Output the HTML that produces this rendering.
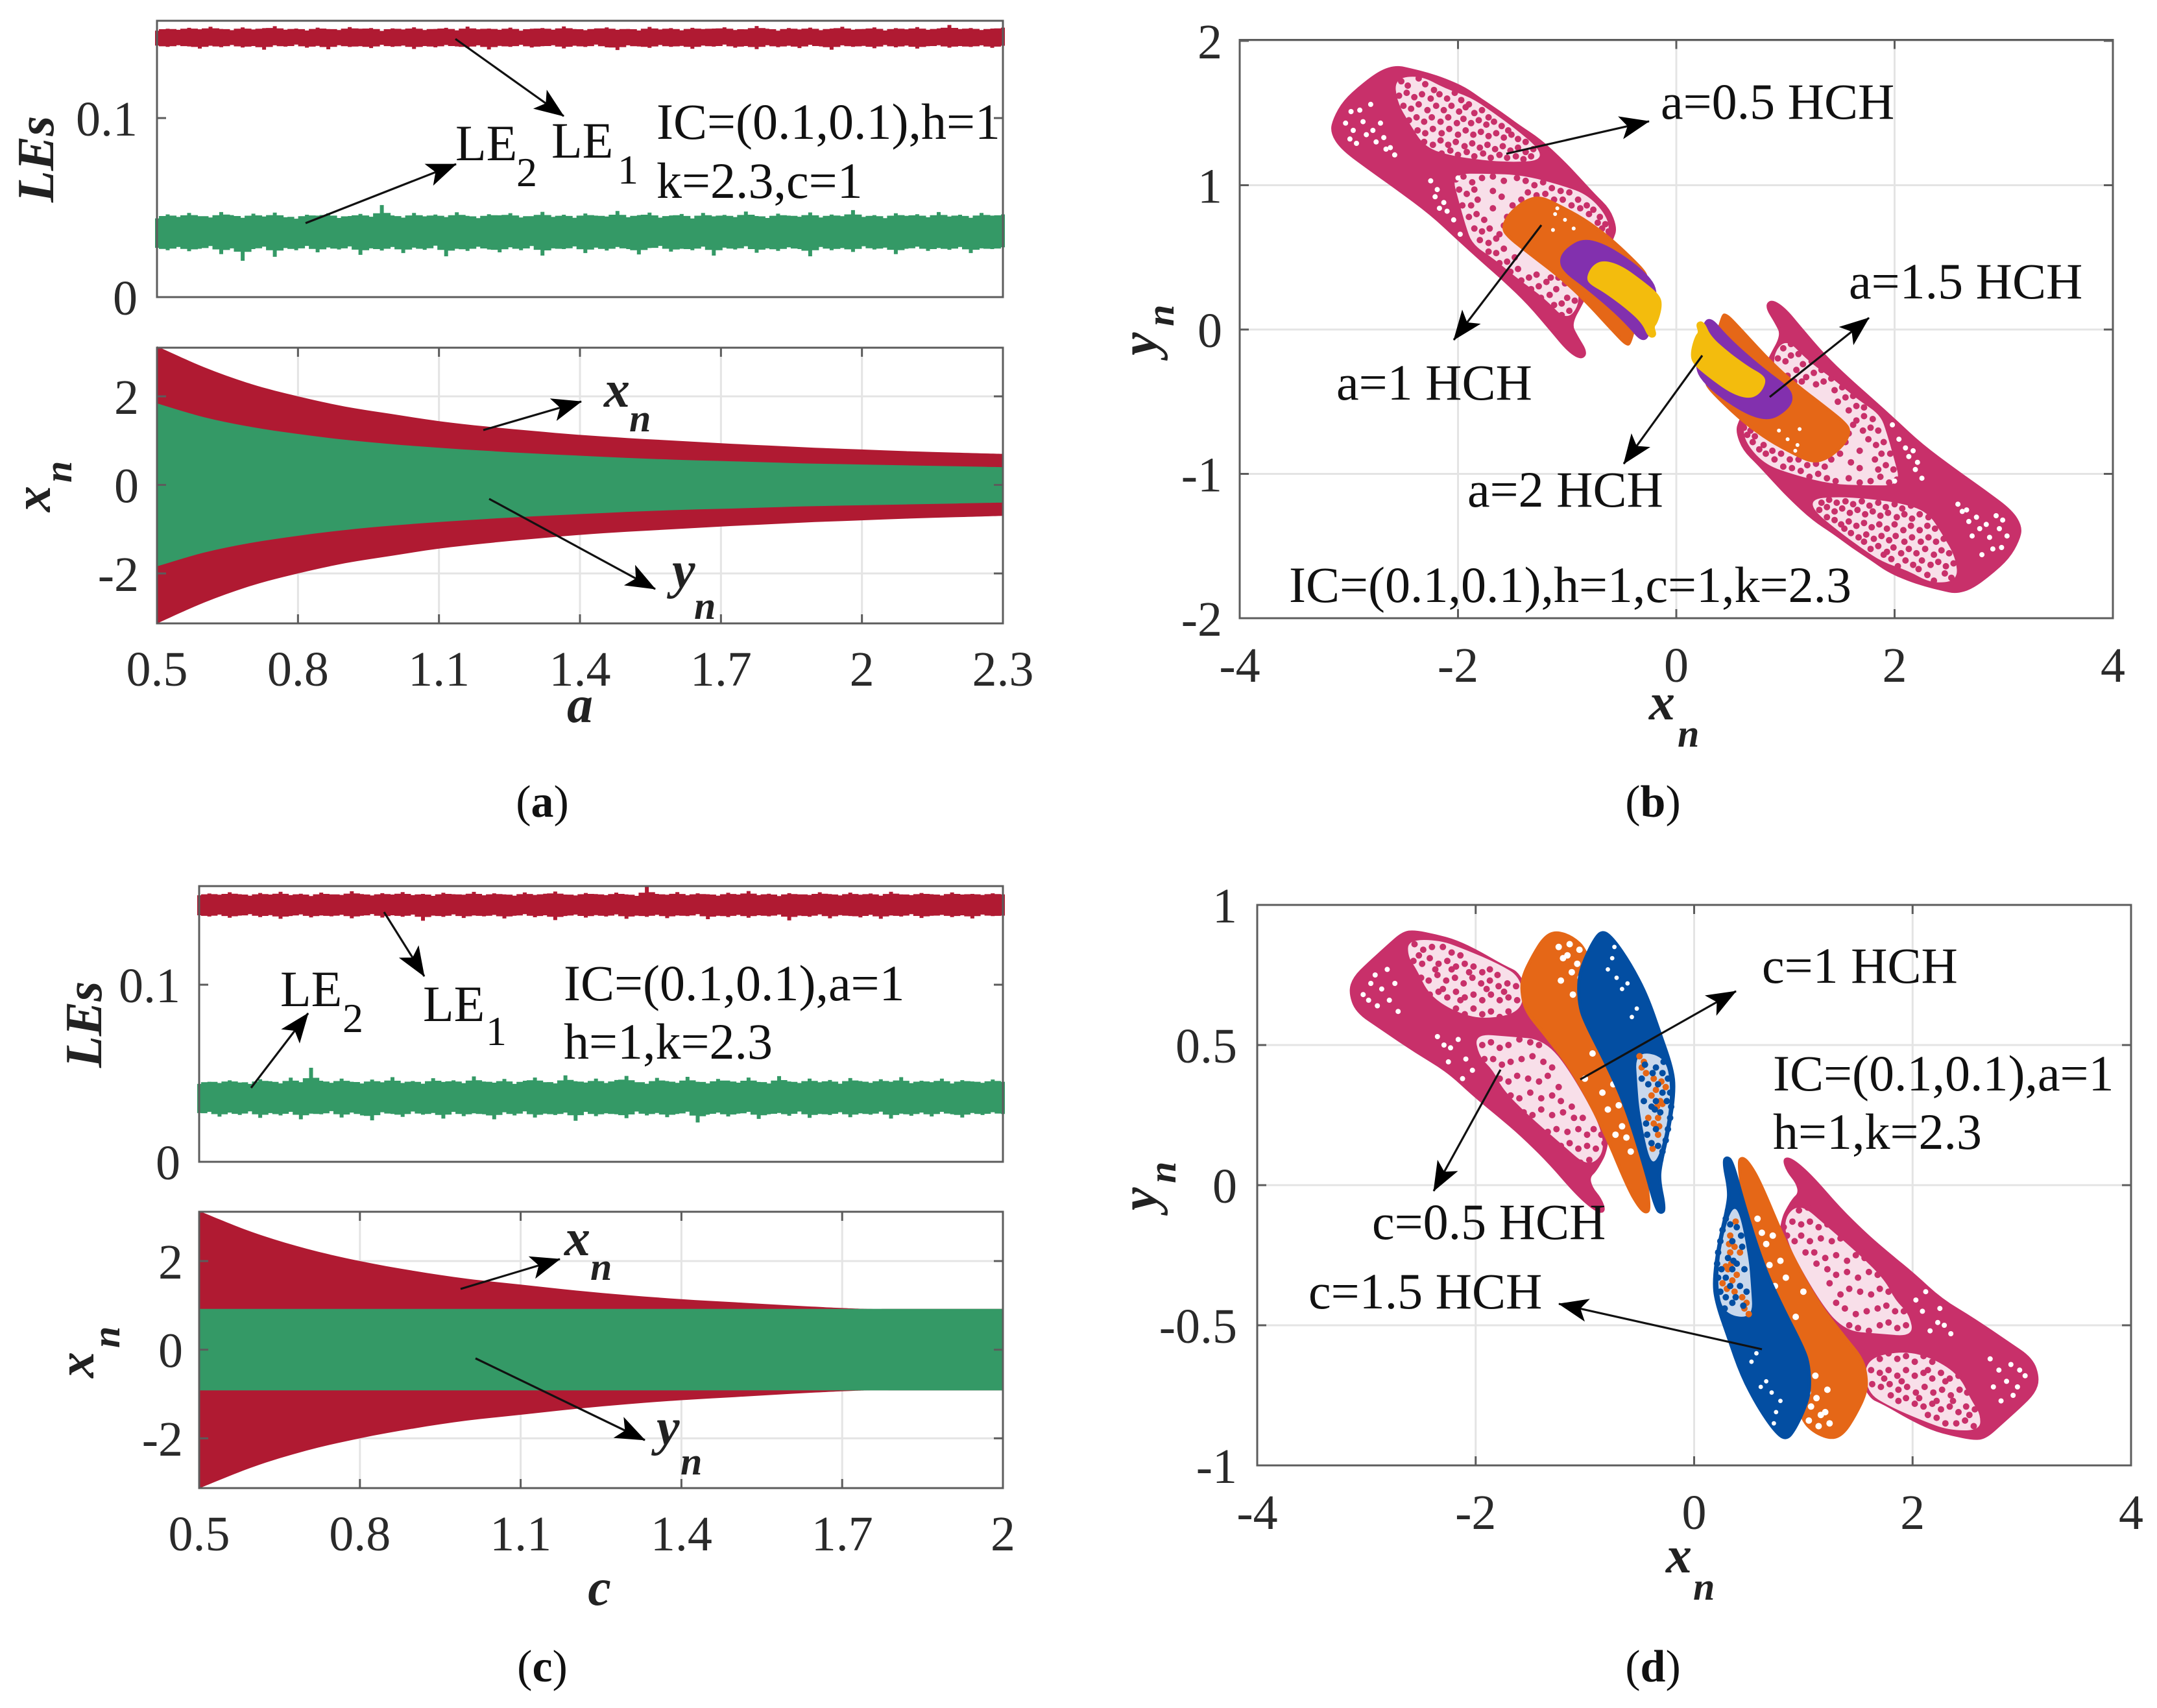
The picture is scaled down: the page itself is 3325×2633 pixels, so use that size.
<!DOCTYPE html>
<html lang="en">
<head>
<meta charset="utf-8">
<title>Lyapunov exponents, bifurcation diagrams and phase portraits</title>
<style>
html,body{margin:0;padding:0;background:#fff}
svg{display:block;font-family:"Liberation Serif",serif;fill:#111}
.tick{font-size:76px;fill:#2a2a2a}
.ann{font-size:78px;fill:#111}
.sub{font-size:64px}
.lab{font-size:80px;font-weight:bold;font-style:italic;fill:#222}
.labsub{font-size:60px;font-weight:bold;font-style:italic;fill:#222}
.cap{font-size:70px;fill:#111}
.arrow{stroke:#111;stroke-width:3.2;marker-end:url(#arrow-head)}
</style>
</head>
<body>
<svg xmlns="http://www.w3.org/2000/svg" width="3325" height="2633" viewBox="0 0 3325 2633">
<defs>
<marker id="arrow-head" markerUnits="userSpaceOnUse" markerWidth="48" markerHeight="38" viewBox="0 0 48 38" refX="47" refY="19" orient="auto">
<path d="M48 19 L2 1 L13 19 L2 37 Z" fill="#000"/>
</marker>
</defs>
<rect width="3325" height="2633" fill="#fff"/>
<g id="plots"></g>

<!-- panel a -->
<g>
<text class="lab" transform="translate(82,312) rotate(-90)">LEs</text>
<text class="lab" transform="translate(77,789) rotate(-90)">x</text>
<text class="labsub" transform="translate(110,744) rotate(-90)">n</text>
<text class="lab" x="894" y="1113" text-anchor="middle">a</text>
<text class="ann" x="702" y="247">LE</text><text class="ann sub" x="796" y="287">2</text>
<text class="ann" x="850" y="243">LE</text><text class="ann sub" x="952" y="283">1</text>
<text class="ann" x="1012" y="214">IC=(0.1,0.1),h=1</text>
<text class="ann" x="1012" y="305">k=2.3,c=1</text>
<text class="lab" x="931" y="627">x</text><text class="labsub" x="970" y="665">n</text>
<text class="lab" x="1036" y="906">y</text><text class="labsub" x="1070" y="954">n</text>
<line class="arrow" x1="702" y1="60" x2="869" y2="179"/>
<line class="arrow" x1="471" y1="344" x2="703" y2="253"/>
<line class="arrow" x1="745" y1="663" x2="896" y2="619"/>
<line class="arrow" x1="754" y1="769" x2="1010" y2="908"/>
<text class="cap" x="836" y="1259" text-anchor="middle">(<tspan font-weight="bold">a</tspan>)</text>
</g>

<!-- panel b -->
<g>
<text class="lab" x="2542" y="1109">x</text><text class="labsub" x="2586" y="1151">n</text>
<text class="lab" transform="translate(1783,548) rotate(-90)">y</text>
<text class="labsub" transform="translate(1809,503) rotate(-90)">n</text>
<text class="ann" x="2560" y="183">a=0.5 HCH</text>
<text class="ann" x="2060" y="616">a=1 HCH</text>
<text class="ann" x="2850" y="460">a=1.5 HCH</text>
<text class="ann" x="2262" y="781">a=2 HCH</text>
<text class="ann" x="1987" y="928">IC=(0.1,0.1),h=1,c=1,k=2.3</text>
<line class="arrow" x1="2322" y1="237" x2="2542" y2="187"/>
<line class="arrow" x1="2376" y1="347" x2="2241" y2="524"/>
<line class="arrow" x1="2728" y1="612" x2="2881" y2="490"/>
<line class="arrow" x1="2624" y1="548" x2="2503" y2="715"/>
<text class="cap" x="2548" y="1259" text-anchor="middle">(<tspan font-weight="bold">b</tspan>)</text>
</g>

<!-- panel c -->
<g>
<text class="lab" transform="translate(156,1646) rotate(-90)">LEs</text>
<text class="lab" transform="translate(144,2124) rotate(-90)">x</text>
<text class="labsub" transform="translate(184,2078) rotate(-90)">n</text>
<text class="lab" x="924" y="2474" text-anchor="middle">c</text>
<text class="ann" x="432" y="1551">LE</text><text class="ann sub" x="528" y="1591">2</text>
<text class="ann" x="652" y="1574">LE</text><text class="ann sub" x="749" y="1611">1</text>
<text class="ann" x="869" y="1542">IC=(0.1,0.1),a=1</text>
<text class="ann" x="869" y="1632">h=1,k=2.3</text>
<text class="lab" x="870" y="1935">x</text><text class="labsub" x="910" y="1973">n</text>
<text class="lab" x="1012" y="2227">y</text><text class="labsub" x="1049" y="2273">n</text>
<line class="arrow" x1="592" y1="1406" x2="654" y2="1505"/>
<line class="arrow" x1="387" y1="1677" x2="475" y2="1562"/>
<line class="arrow" x1="710" y1="1987" x2="863" y2="1941"/>
<line class="arrow" x1="733" y1="2094" x2="994" y2="2220"/>
<text class="cap" x="836" y="2592" text-anchor="middle">(<tspan font-weight="bold">c</tspan>)</text>
</g>

<!-- panel d -->
<g>
<text class="lab" x="2568" y="2424">x</text><text class="labsub" x="2610" y="2466">n</text>
<text class="lab" transform="translate(1783,1866) rotate(-90)">y</text>
<text class="labsub" transform="translate(1812,1824) rotate(-90)">n</text>
<text class="ann" x="2716" y="1515">c=1 HCH</text>
<text class="ann" x="2733" y="1681">IC=(0.1,0.1),a=1</text>
<text class="ann" x="2733" y="1771">h=1,k=2.3</text>
<text class="ann" x="2115" y="1910">c=0.5 HCH</text>
<text class="ann" x="2017" y="2017">c=1.5 HCH</text>
<line class="arrow" x1="2436" y1="1664" x2="2676" y2="1528"/>
<line class="arrow" x1="2313" y1="1649" x2="2210" y2="1836"/>
<line class="arrow" x1="2716" y1="2080" x2="2403" y2="2010"/>
<text class="cap" x="2548" y="2592" text-anchor="middle">(<tspan font-weight="bold">d</tspan>)</text>
</g>
</svg>

<script>
/* ---------- tick values ---------- */
const aXTicks=[0.5,0.8,1.1,1.4,1.7,2,2.3];
const cXTicks=[0.5,0.8,1.1,1.4,1.7,2];
const bandYTicks=[-2,0,2];
const leYTicks=[0,0.1];
const bXTicks=[-4,-2,0,2,4];
const bYTicks=[-2,-1,0,1,2];
const dXTicks=[-4,-2,0,2,4];
const dYTicks=[-1,-0.5,0,0.5,1];

/* ---------- panel a: envelopes of the bifurcation bands ---------- */
const aParam=[0.5,0.6,0.7,0.8,0.9,1.0,1.1,1.2,1.3,1.4,1.5,1.6,1.7,1.8,1.9,2.0,2.1,2.2,2.3];
const aOuter=[3.13,2.66,2.28,2.0,1.77,1.6,1.44,1.32,1.22,1.13,1.06,1.0,0.94,0.89,0.84,0.8,0.76,0.73,0.70];
const aInner=[1.84,1.53,1.31,1.15,1.02,0.92,0.84,0.77,0.71,0.66,0.61,0.57,0.54,0.51,0.48,0.46,0.44,0.42,0.40];

/* ---------- panel c: envelopes ---------- */
const cParam=[0.5,0.6,0.7,0.8,0.9,1.0,1.1,1.2,1.3,1.4,1.5,1.6,1.7,1.75,1.8,1.9,2.0];
const cOuter=[3.13,2.65,2.28,2.0,1.78,1.6,1.47,1.34,1.23,1.14,1.07,1.0,0.94,0.92,0.92,0.92,0.92];
const cInner=[0.92,0.92,0.92,0.92,0.92,0.92,0.92,0.92,0.92,0.92,0.92,0.92,0.92,0.92,0.92,0.92,0.92];

/* ---------- panel a: Lyapunov exponent band edges ---------- */
const aLe1Top=[.1488,.1499,.1493,.1504,.1496,.1510,.1498,.1491,.1506,.1495,.1502,.1513,.1494,.1500,.1489,.1505,.1497,.1492,.1508,.1499,.1503,.1487,.1501,.1495,.1507,.1492,.1498,.1504,.1490,.1511,.1496,.1500,.1493,.1505,.1488,.1499,.1503,.1494,.1512,.1497,.1491,.1501,.1506,.1493,.1498,.1489,.1509,.1495,.1502,.1490,.1504,.1497,.1500,.1507,.1492,.1496,.1514,.1499,.1488,.1503,.1495,.1505,.1491,.1500,.1510,.1494,.1498,.1506,.1489,.1502,.1496,.1508,.1493,.1501,.1520,.1497,.1503,.1492,.1500,.1505];
const aLe1Bot=[.1405,.1398,.1407,.1400,.1388,.1404,.1396,.1408,.1394,.1402,.1382,.1406,.1399,.1410,.1393,.1403,.1384,.1407,.1397,.1401,.1391,.1409,.1398,.1405,.1386,.1402,.1395,.1408,.1400,.1392,.1406,.1383,.1403,.1398,.1409,.1394,.1401,.1407,.1389,.1404,.1397,.1410,.1395,.1380,.1406,.1400,.1392,.1408,.1398,.1403,.1387,.1405,.1399,.1410,.1393,.1402,.1385,.1407,.1396,.1404,.1391,.1409,.1400,.1382,.1406,.1398,.1403,.1390,.1408,.1395,.1405,.1388,.1401,.1407,.1393,.1402,.1397,.1406,.1392,.1404];
const aLe2Top=[.0440,.0462,.0448,.0470,.0452,.0445,.0475,.0458,.0443,.0466,.0450,.0472,.0446,.0438,.0460,.0455,.0468,.0442,.0453,.0465,.0449,.0514,.0456,.0444,.0470,.0451,.0461,.0447,.0474,.0454,.0441,.0463,.0457,.0469,.0445,.0452,.0476,.0448,.0460,.0443,.0467,.0455,.0450,.0481,.0446,.0458,.0472,.0444,.0456,.0464,.0439,.0470,.0451,.0459,.0447,.0478,.0453,.0442,.0466,.0455,.0449,.0473,.0445,.0461,.0452,.0486,.0448,.0458,.0441,.0468,.0454,.0463,.0446,.0475,.0450,.0460,.0443,.0470,.0455,.0462];
const aLe2Bot=[.0275,.0262,.0280,.0256,.0270,.0285,.0240,.0272,.0203,.0268,.0282,.0225,.0274,.0262,.0286,.0250,.0277,.0266,.0283,.0236,.0272,.0260,.0280,.0246,.0276,.0264,.0287,.0228,.0270,.0258,.0281,.0266,.0250,.0278,.0262,.0285,.0232,.0272,.0268,.0283,.0246,.0276,.0260,.0280,.0268,.0238,.0274,.0286,.0254,.0270,.0262,.0282,.0232,.0276,.0266,.0284,.0248,.0272,.0258,.0278,.0268,.0228,.0280,.0262,.0274,.0252,.0284,.0266,.0276,.0240,.0270,.0282,.0258,.0274,.0264,.0280,.0246,.0272,.0268,.0278];

/* ---------- panel c: Lyapunov exponent band edges ---------- */
const cLe1Top=[.1505,.1515,.1508,.1522,.1511,.1503,.1518,.1509,.1525,.1506,.1514,.1501,.1520,.1510,.1507,.1528,.1512,.1504,.1517,.1509,.1523,.1506,.1513,.1502,.1519,.1511,.1508,.1524,.1505,.1516,.1510,.1503,.1521,.1507,.1514,.1526,.1509,.1504,.1518,.1512,.1506,.1520,.1510,.1502,.1555,.1513,.1508,.1523,.1505,.1516,.1511,.1503,.1519,.1509,.1529,.1506,.1514,.1501,.1517,.1510,.1507,.1522,.1512,.1504,.1520,.1508,.1515,.1503,.1525,.1510,.1506,.1518,.1511,.1504,.1521,.1509,.1513,.1507,.1516,.1510];
const cLe1Bot=[.1392,.1385,.1396,.1378,.1390,.1398,.1382,.1393,.1372,.1388,.1397,.1380,.1391,.1386,.1395,.1375,.1389,.1399,.1379,.1392,.1384,.1396,.1361,.1390,.1383,.1397,.1377,.1391,.1386,.1394,.1374,.1389,.1398,.1381,.1392,.1365,.1388,.1396,.1379,.1393,.1385,.1397,.1372,.1390,.1383,.1395,.1376,.1391,.1387,.1398,.1370,.1389,.1382,.1394,.1378,.1392,.1386,.1396,.1363,.1390,.1384,.1397,.1375,.1393,.1388,.1380,.1395,.1372,.1391,.1385,.1398,.1377,.1389,.1394,.1382,.1392,.1374,.1396,.1387,.1390];
const cLe2Top=[.0440,.0452,.0445,.0460,.0448,.0440,.0466,.0455,.0443,.0475,.0450,.0531,.0458,.0446,.0470,.0452,.0442,.0464,.0449,.0478,.0445,.0456,.0441,.0472,.0451,.0460,.0444,.0482,.0453,.0447,.0468,.0440,.0458,.0476,.0450,.0443,.0488,.0455,.0448,.0470,.0445,.0462,.0485,.0450,.0441,.0474,.0456,.0446,.0480,.0452,.0443,.0468,.0459,.0447,.0476,.0451,.0442,.0484,.0454,.0445,.0470,.0449,.0462,.0441,.0473,.0456,.0446,.0466,.0452,.0478,.0444,.0458,.0450,.0470,.0442,.0461,.0454,.0446,.0465,.0452];
const cLe2Bot=[.0275,.0282,.0255,.0278,.0265,.0285,.0248,.0275,.0262,.0282,.0240,.0272,.0268,.0286,.0250,.0278,.0262,.0234,.0280,.0270,.0254,.0284,.0266,.0276,.0244,.0282,.0258,.0274,.0268,.0240,.0280,.0262,.0285,.0250,.0272,.0264,.0278,.0232,.0282,.0258,.0274,.0268,.0246,.0284,.0262,.0276,.0252,.0270,.0283,.0222,.0266,.0278,.0256,.0272,.0282,.0242,.0268,.0276,.0260,.0284,.0248,.0270,.0264,.0280,.0252,.0274,.0266,.0283,.0244,.0272,.0260,.0278,.0256,.0282,.0268,.0250,.0276,.0264,.0280,.0270];

/* ---------- panel b: attractor outlines and points (one lobe; the other is its point reflection) ---------- */
const a05Outline=[-2.56,1.82,-2.44,1.80,-2.28,1.77,-2.12,1.73,-1.94,1.67,-1.79,1.59,-1.61,1.50,-1.45,1.41,-1.25,1.31,-1.05,1.17,-0.90,1.05,-0.755,0.93,-0.62,0.83,-0.56,0.71,-0.58,0.64,-0.856,0.20,-0.975,0.04,-0.916,-0.05,-0.826,-0.16,-0.874,-0.20,-0.993,-0.14,-1.136,-0.01,-1.35,0.18,-1.57,0.34,-1.766,0.47,-2.0,0.63,-2.24,0.80,-2.56,0.98,-2.84,1.13,-3.07,1.26,-3.157,1.37,-3.13,1.46,-3.04,1.58,-2.88,1.69,-2.70,1.79];
const a05GapUpper=[-2.58,1.74,-2.34,1.76,-2.12,1.67,-1.885,1.61,-1.69,1.51,-1.49,1.40,-1.25,1.25,-1.25,1.17,-1.49,1.16,-1.73,1.17,-2.045,1.20,-2.30,1.26,-2.44,1.42,-2.56,1.58];
const a05GapLower=[-2.06,1.08,-1.73,1.08,-1.41,1.07,-1.05,1.00,-0.80,0.93,-0.62,0.77,-0.62,0.64,-1.05,0.53,-0.856,0.23,-0.993,0.05,-1.21,0.22,-1.45,0.35,-1.67,0.49,-1.87,0.59,-1.93,0.72,-1.99,0.88];
const a05Points=[-2.52,1.72,-2.46,1.69,-2.36,1.74,-2.30,1.70,-2.22,1.66,-2.54,1.62,-2.47,1.64,-2.40,1.61,-2.33,1.63,-2.25,1.60,-2.17,1.63,-2.10,1.60,-2.03,1.64,-1.97,1.59,-1.90,1.56,-2.50,1.55,-2.43,1.53,-2.36,1.56,-2.28,1.52,-2.20,1.55,-2.13,1.52,-2.06,1.55,-1.99,1.51,-1.93,1.54,-1.85,1.50,-1.78,1.52,-1.72,1.47,-2.45,1.45,-2.38,1.47,-2.31,1.44,-2.24,1.47,-2.16,1.44,-2.09,1.47,-2.01,1.43,-1.95,1.46,-1.88,1.43,-1.81,1.45,-1.74,1.42,-1.67,1.44,-1.60,1.41,-1.54,1.38,-2.37,1.38,-2.30,1.36,-2.23,1.39,-2.15,1.36,-2.08,1.39,-2.00,1.35,-1.93,1.38,-1.86,1.35,-1.79,1.37,-1.72,1.34,-1.65,1.36,-1.58,1.33,-1.51,1.35,-1.45,1.32,-1.38,1.30,-2.31,1.30,-2.23,1.28,-2.16,1.31,-2.09,1.28,-2.02,1.30,-1.94,1.27,-1.87,1.29,-1.80,1.26,-1.73,1.28,-1.66,1.25,-1.59,1.27,-1.52,1.24,-1.45,1.26,-1.38,1.23,-1.31,1.25,-2.15,1.22,-2.07,1.24,-2.00,1.21,-1.92,1.23,-1.85,1.20,-1.77,1.22,-1.70,1.19,-1.62,1.21,-1.55,1.19,-1.47,1.20,-1.40,1.18,-1.33,1.20,-2.02,1.04,-1.95,1.06,-1.87,1.02,-1.78,1.05,-1.68,1.06,-1.58,1.03,-1.46,1.05,-1.38,1.03,-1.30,1.00,-1.22,1.02,-1.14,0.98,-1.06,0.96,-0.98,0.95,-0.90,0.90,-0.82,0.86,-0.76,0.83,-0.70,0.78,-0.65,0.73,-0.62,0.68,-1.99,0.97,-1.92,0.94,-1.85,0.97,-1.36,0.95,-1.28,0.93,-1.20,0.94,-1.12,0.90,-1.04,0.90,-0.96,0.86,-0.88,0.84,-0.80,0.80,-0.72,0.74,-0.68,0.70,-1.96,0.86,-1.88,0.86,-1.82,0.90,-1.90,0.78,-1.83,0.80,-1.76,0.76,-1.85,0.70,-1.78,0.68,-1.71,0.70,-1.80,0.62,-1.72,0.60,-1.65,0.63,-1.58,0.72,-1.72,0.54,-1.65,0.53,-1.58,0.56,-1.62,0.46,-1.55,0.47,-1.48,0.50,-1.52,0.40,-1.45,0.42,-1.42,0.34,-1.35,0.36,-1.28,0.38,-1.33,0.28,-1.26,0.30,-1.19,0.33,-1.24,0.22,-1.16,0.24,-1.10,0.28,-1.12,0.17,-1.05,0.18,-1.00,0.22,-1.05,0.10,-0.98,0.13,-0.93,0.20,-0.90,0.28,-1.02,0.32,-1.08,0.36,-1.15,0.36,-1.68,0.96,-1.60,0.92,-1.50,0.86,-1.42,0.90,-1.68,0.84,-1.55,0.78,-1.62,0.66];
const a05Flecks=[-2.96,1.38,-2.84,1.35,-2.66,1.25,-2.58,1.21,-2.98,1.51,-2.80,1.56,-2.71,1.43,-2.99,1.32,-2.21,0.92,-2.17,0.84,-2.13,0.88,-2.25,1.03,-2.04,0.76,-2.00,1.05,-2.87,1.44,-2.93,1.29,-2.75,1.30,-2.62,1.26,-2.19,0.97,-2.90,1.52,-2.78,1.38,-2.68,1.33,-3.03,1.43,-2.10,0.82,-1.98,0.66];
const a1Outline=[-1.25,0.92,-1.08,0.86,-0.856,0.77,-0.62,0.64,-0.42,0.50,-0.28,0.39,-0.28,0.35,-0.42,-0.10,-0.46,-0.10,-0.54,-0.04,-0.856,0.22,-1.09,0.38,-1.35,0.53,-1.55,0.65,-1.59,0.71,-1.53,0.80,-1.39,0.89];
const a1Flecks=[-1.11,0.80,-1.13,0.69,-0.94,0.70,-1.09,0.84,-1.02,0.76];
const a15Outline=[-0.856,0.62,-0.68,0.59,-0.46,0.49,-0.28,0.38,-0.18,0.27,-0.227,0.10,-0.26,-0.05,-0.32,-0.07,-0.42,0.02,-0.58,0.14,-0.815,0.29,-1.03,0.41,-1.06,0.49,-0.993,0.56];
const a2Outline=[-0.66,0.47,-0.50,0.43,-0.30,0.32,-0.16,0.23,-0.143,0.16,-0.184,0.05,-0.22,0.02,-0.19,-0.04,-0.244,-0.05,-0.30,0.05,-0.46,0.16,-0.66,0.27,-0.78,0.32,-0.81,0.36,-0.755,0.44];

/* ---------- panel d: attractor outlines and points ---------- */
const c05Outline=[-2.56,0.905,-2.37,0.89,-2.18,0.87,-1.97,0.83,-1.75,0.78,-1.58,0.75,-1.41,0.54,-0.78,0.40,-0.785,0.14,-0.90,0.055,-0.97,0.03,-0.945,-0.01,-0.86,-0.05,-0.82,-0.095,-0.90,-0.09,-1.075,-0.03,-1.33,0.085,-1.58,0.18,-1.79,0.25,-2.01,0.32,-2.26,0.41,-2.56,0.48,-2.86,0.56,-3.09,0.62,-3.15,0.69,-3.11,0.74,-2.98,0.79,-2.81,0.85,-2.665,0.90];
const c05GapUpper=[-2.62,0.875,-2.33,0.875,-2.09,0.84,-1.79,0.79,-1.58,0.74,-1.56,0.62,-1.92,0.59,-2.20,0.62,-2.43,0.68,-2.54,0.77,-2.62,0.815];
const c05GapLower=[-2.01,0.54,-1.69,0.53,-1.37,0.52,-1.12,0.40,-0.78,0.155,-0.945,0.055,-1.24,0.155,-1.52,0.25,-1.75,0.34,-1.84,0.41,-1.97,0.46];
const c05Points=[-2.56,0.86,-2.48,0.84,-2.40,0.85,-2.30,0.85,-2.22,0.83,-2.14,0.82,-2.57,0.80,-2.49,0.79,-2.42,0.81,-2.34,0.79,-2.26,0.80,-2.18,0.78,-2.10,0.79,-2.02,0.78,-1.94,0.76,-1.87,0.77,-1.80,0.75,-2.50,0.74,-2.43,0.73,-2.35,0.75,-2.27,0.73,-2.19,0.74,-2.11,0.72,-2.03,0.74,-1.95,0.72,-1.87,0.73,-1.79,0.71,-1.71,0.72,-1.63,0.71,-2.42,0.68,-2.34,0.69,-2.26,0.67,-2.18,0.69,-2.10,0.67,-2.02,0.68,-1.94,0.66,-1.86,0.68,-1.78,0.66,-1.70,0.67,-1.62,0.66,-2.26,0.62,-2.18,0.63,-2.10,0.61,-2.02,0.63,-1.94,0.61,-1.86,0.62,-1.78,0.60,-1.70,0.62,-1.62,0.61,-2.52,0.82,-2.37,0.77,-2.22,0.77,-2.06,0.76,-1.90,0.70,-1.74,0.69,-2.30,0.70,-2.14,0.66,-1.94,0.50,-1.86,0.51,-1.78,0.49,-1.70,0.50,-1.60,0.52,-1.50,0.51,-1.42,0.50,-1.92,0.45,-1.84,0.45,-1.76,0.43,-1.68,0.44,-1.58,0.45,-1.48,0.46,-1.38,0.44,-1.30,0.42,-1.78,0.38,-1.70,0.37,-1.62,0.39,-1.52,0.38,-1.42,0.37,-1.34,0.39,-1.24,0.35,-1.68,0.32,-1.60,0.31,-1.50,0.33,-1.40,0.31,-1.30,0.32,-1.22,0.30,-1.12,0.28,-1.56,0.26,-1.48,0.25,-1.40,0.27,-1.30,0.25,-1.20,0.26,-1.10,0.24,-1.02,0.24,-1.42,0.20,-1.34,0.19,-1.26,0.20,-1.16,0.19,-1.06,0.20,-0.98,0.18,-0.92,0.20,-0.85,0.18,-1.30,0.15,-1.22,0.14,-1.14,0.15,-1.06,0.13,-0.98,0.14,-0.90,0.13,-0.82,0.15,-1.12,0.09,-1.04,0.08,-0.96,0.09,-0.90,0.07];
const c05Flecks=[-2.96,0.72,-2.86,0.70,-2.79,0.66,-2.71,0.62,-3.03,0.68,-2.92,0.75,-2.81,0.77,-2.23,0.49,-2.16,0.52,-2.09,0.45,-2.35,0.53,-2.29,0.50,-2.03,0.41,-2.74,0.72,-2.90,0.64,-2.98,0.66,-2.12,0.38,-2.25,0.44];
const c1Outline=[-1.265,0.905,-1.115,0.885,-0.99,0.84,-0.88,0.70,-0.82,0.44,-0.63,0.25,-0.457,0.07,-0.405,-0.08,-0.436,-0.10,-0.50,-0.08,-0.606,-0.01,-0.84,0.21,-1.115,0.41,-1.37,0.54,-1.54,0.62,-1.58,0.69,-1.57,0.745,-1.476,0.82,-1.37,0.885];
const c1Flecks=[-1.24,0.85,-1.16,0.82,-1.07,0.79,-1.11,0.68,-1.22,0.73,-0.84,0.33,-0.69,0.285,-0.62,0.17,-0.93,0.47,-1.20,0.81,-1.12,0.76,-0.79,0.27,-0.66,0.21,-1.00,0.38,-1.14,0.86,-1.05,0.84,-1.04,0.74,-0.74,0.36,-0.58,0.12,-0.72,0.18];
const c15Outline=[-0.84,0.91,-0.733,0.875,-0.585,0.79,-0.436,0.68,-0.31,0.54,-0.20,0.415,-0.18,0.34,-0.225,0.21,-0.31,0.07,-0.32,0.016,-0.267,-0.085,-0.30,-0.10,-0.35,-0.085,-0.457,0.07,-0.63,0.285,-0.80,0.43,-1.01,0.59,-1.05,0.645,-1.06,0.72,-1.03,0.78,-0.925,0.87];
const c15Gap=[-0.54,0.477,-0.267,0.46,-0.21,0.355,-0.245,0.21,-0.34,0.08,-0.415,0.09,-0.50,0.26,-0.52,0.355];
const c15Points=[-0.35,0.42,-0.29,0.40,-0.24,0.38,-0.22,0.33,-0.21,0.28,-0.22,0.24,-0.24,0.20,-0.26,0.16,-0.29,0.12,-0.31,0.09,-0.33,0.14,-0.35,0.20,-0.39,0.15,-0.31,0.26,-0.35,0.30,-0.29,0.33,-0.39,0.28,-0.44,0.22,-0.42,0.36,-0.33,0.36,-0.46,0.30,-0.48,0.38,-0.38,0.40,-0.28,0.44,-0.45,0.43,-0.36,0.27,-0.25,0.30,-0.43,0.18];
const c1InsidePoints=[-0.46,0.44,-0.44,0.40,-0.35,0.34,-0.37,0.38,-0.31,0.30,-0.33,0.24,-0.37,0.22,-0.29,0.29,-0.33,0.18,-0.42,0.24,-0.38,0.13,-0.50,0.46,-0.48,0.42,-0.30,0.37,-0.34,0.28,-0.39,0.32,-0.26,0.35,-0.32,0.21];
const c15Flecks=[-0.75,0.81,-0.71,0.74,-0.61,0.72,-0.525,0.63,-0.79,0.77,-0.66,0.70,-0.57,0.60,-0.73,0.85];

/* ---------- colours ---------- */
const RED='#b01a32',GREEN='#349966',MAGENTA='#c8306a',ORANGE='#e56717',PURPLE='#8230ae',YELLOW='#f3bc0d',BLUE='#034ea2';

/* ---------- helpers ---------- */
const NS='http://www.w3.org/2000/svg';
const plots=document.getElementById('plots');
function scale(d0,d1,r0,r1){return v=>r0+(v-d0)*(r1-r0)/(d1-d0);}
function mk(tag,attrs,parent){
  const el=document.createElementNS(NS,tag);
  for(const k in attrs)el.setAttribute(k,attrs[k]);
  (parent||plots).appendChild(el);
  return el;
}
function drawGrid(prefix,box,sx,sy,xTicks,yTicks){
  xTicks.forEach(t=>{
    const g=mk('line',{x1:sx(t),x2:sx(t),y1:box.top,y2:box.bottom,stroke:'#e4e4e4','stroke-width':3});
    
    
  });
  yTicks.forEach(t=>{
    const g=mk('line',{x1:box.left,x2:box.right,y1:sy(t),y2:sy(t),stroke:'#e4e4e4','stroke-width':3});
    
    
  });
}
function drawFrame(prefix,box,sx,sy,xTicks,yTicks,xLabelY,yLabelRight){
  const f=mk('rect',{x:box.left,y:box.top,width:box.right-box.left,height:box.bottom-box.top,fill:'none',stroke:'#5c5c5c','stroke-width':3});
  
  
  xTicks.forEach(t=>{
    const x=sx(t);
    const tb=mk('path',{d:`M${x} ${box.bottom}v-14M${x} ${box.top}v14`,stroke:'#5c5c5c','stroke-width':3,fill:'none'});
    
    
    if(xLabelY){
      const l=mk('text',{x:x,y:xLabelY,'text-anchor':'middle',class:'tick'});
      l.textContent=String(t);
      
      
    }
  });
  yTicks.forEach(t=>{
    const y=sy(t);
    const tb=mk('path',{d:`M${box.left} ${y}h14M${box.right} ${y}h-14`,stroke:'#5c5c5c','stroke-width':3,fill:'none'});
    
    
    const l=mk('text',{x:yLabelRight,y:y+27,'text-anchor':'end',class:'tick'});
    l.textContent=String(t);
    
    
  });
}
/* rough edge of a noisy band: each sample is a narrow stroke, with a shallower shoulder before the next sample */
function roughEdge(vals,sx,sy,p0,p1){
  const sorted=vals.slice().sort((a,b)=>a-b),med=sorted[sorted.length>>1];
  const n=vals.length,pts=[];
  for(let i=0;i<n;i++){
    const x=sx(p0+(p1-p0)*i/(n-1));
    pts.push([x-3,sy(vals[i])],[x+3,sy(vals[i])]);
    if(i<n-1){
      const nx=sx(p0+(p1-p0)*(i+1)/(n-1));
      const m=med+(vals[i]+vals[i+1]-2*med)/4;
      pts.push([x+3,sy(m)],[nx-3,sy(m)]);
    }
  }
  return pts;
}
function drawLePanel(prefix,box,sy,p0,p1,series){
  const sx=scale(p0,p1,box.left,box.right);
  series.forEach(s=>{
    const top=roughEdge(s.upper,sx,sy,p0,p1);
    const bot=roughEdge(s.lower,sx,sy,p0,p1).reverse();
    const b=mk('polygon',{points:top.concat(bot).map(p=>p[0].toFixed(1)+','+p[1].toFixed(1)).join(' '),fill:s.color});
    
    
  });
  const z=mk('line',{x1:box.left,x2:box.right,y1:sy(0),y2:sy(0),stroke:'#111','stroke-width':2,'stroke-dasharray':'3 3'});
  
  
  drawFrame(prefix,box,sx,sy,[],leYTicks,null,box.labelRight);
}
/* Catmull-Rom curve through the envelope samples */
function curve(pts){
  let d='';
  for(let i=0;i<pts.length-1;i++){
    const p0=pts[Math.max(i-1,0)],p1=pts[i],p2=pts[i+1],p3=pts[Math.min(i+2,pts.length-1)];
    const c1=[p1[0]+(p2[0]-p0[0])/6,p1[1]+(p2[1]-p0[1])/6],c2=[p2[0]-(p3[0]-p1[0])/6,p2[1]-(p3[1]-p1[1])/6];
    d+=`C${c1[0].toFixed(1)} ${c1[1].toFixed(1)} ${c2[0].toFixed(1)} ${c2[1].toFixed(1)} ${p2[0].toFixed(1)} ${p2[1].toFixed(1)}`;
  }
  return d;
}
function band(param,mag,sx,sy,fill){
  const top=param.map((v,i)=>[sx(v),sy(mag[i])]);
  const bot=param.map((v,i)=>[sx(v),sy(-mag[i])]).reverse();
  const d=`M${top[0][0]} ${top[0][1]}`+curve(top)+`L${bot[0][0]} ${bot[0][1]}`+curve(bot)+'Z';
  return mk('path',{d:d,fill:fill});
}
function drawBandPanel(prefix,box,sx,sy,param,outer,inner,xTicks,xLabelY,labelRight){
  drawGrid(prefix,box,sx,sy,xTicks,bandYTicks);
  const o=band(param,outer,sx,sy,RED);
  
  
  const n=band(param,inner,sx,sy,GREEN);
  
  
  drawFrame(prefix,box,sx,sy,xTicks,bandYTicks,xLabelY,labelRight);
}
/* closed smoothed outline through midpoints of the outline vertices */
function region(flat,sx,sy,mirror,fill,stroke){
  const m=mirror?-1:1,p=[];
  for(let i=0;i<flat.length;i+=2)p.push([sx(m*flat[i]),sy(m*flat[i+1])]);
  const mid=(a,b)=>[(a[0]+b[0])/2,(a[1]+b[1])/2];
  const n=p.length;
  let s=mid(p[n-1],p[0]),d=`M${s[0].toFixed(1)} ${s[1].toFixed(1)}`;
  for(let i=0;i<n;i++){
    const e=mid(p[i],p[(i+1)%n]);
    d+=`Q${p[i][0].toFixed(1)} ${p[i][1].toFixed(1)} ${e[0].toFixed(1)} ${e[1].toFixed(1)}`;
  }
  return mk('path',{d:d+'Z',fill:fill,stroke:stroke||fill,'stroke-width':5,'stroke-linejoin':'round'});
}
function dots(flat,sx,sy,mirror,fill,r,name){
  const m=mirror?-1:1;
  for(let i=0;i<flat.length;i+=2){
    const c=mk('circle',{cx:sx(m*flat[i]).toFixed(1),cy:sy(m*flat[i+1]).toFixed(1),r:r,fill:fill});
    
    
  }
}

/* ---------- panel a ---------- */
(function(){
  const boxTop={left:242,right:1546,top:32,bottom:458,labelRight:212};
  drawLePanel('a-les',boxTop,scale(0,0.1,458,182),0.5,2.3,[
    {name:'le1',upper:aLe1Top,lower:aLe1Bot,color:RED},
    {name:'le2',upper:aLe2Top,lower:aLe2Bot,color:GREEN}]);
  const box={left:242,right:1546,top:536,bottom:961};
  const sx=scale(0.5,2.3,242,1546),sy=scale(0,2,747.5,611);
  drawBandPanel('a-xn',box,sx,sy,aParam,aOuter,aInner,aXTicks,1057,214);
})();

/* ---------- panel c ---------- */
(function(){
  const boxTop={left:307,right:1546,top:1366,bottom:1791,labelRight:278};
  drawLePanel('c-les',boxTop,scale(0,0.1,1791,1518),0.5,2,[
    {name:'le1',upper:cLe1Top,lower:cLe1Bot,color:RED},
    {name:'le2',upper:cLe2Top,lower:cLe2Bot,color:GREEN}]);
  const box={left:307,right:1546,top:1868,bottom:2294};
  const sx=scale(0.5,2,307,1546),sy=scale(0,2,2080.6,1944);
  drawBandPanel('c-xn',box,sx,sy,cParam,cOuter,cInner,cXTicks,2390,282);
})();

/* ---------- panel b ---------- */
(function(){
  const box={left:1911,right:3257,top:61.5,bottom:953};
  const sx=scale(-4,4,1911,3257),sy=scale(0,1,508,285.5);
  drawGrid('b',box,sx,sy,bXTicks,bYTicks);
  [false,true].forEach(mirror=>{
    const lobe=mirror?'lower':'upper';
    let r=region(a05Outline,sx,sy,mirror,MAGENTA);
    
    
    r=region(a05GapUpper,sx,sy,mirror,'#f8dfe9','none');
    
    
    r=region(a05GapLower,sx,sy,mirror,'#f8dfe9','none');
    
    
    dots(a05Points,sx,sy,mirror,MAGENTA,5,'a05-point');
    dots(a05Flecks,sx,sy,mirror,'#fff',4,'a05-gap');
    r=region(a1Outline,sx,sy,mirror,ORANGE);
    
    
    dots(a1Flecks,sx,sy,mirror,'#fff',3,'a1-gap');
    r=region(a15Outline,sx,sy,mirror,PURPLE);
    
    
    r=region(a2Outline,sx,sy,mirror,YELLOW);
    
    
  });
  drawFrame('b',box,sx,sy,bXTicks,bYTicks,1051,1884);
})();

/* ---------- panel d ---------- */
(function(){
  const box={left:1938,right:3285,top:1395,bottom:2259};
  const sx=scale(-4,4,1938,3285),sy=scale(0,1,1827,1395);
  drawGrid('d',box,sx,sy,dXTicks,dYTicks);
  [false,true].forEach(mirror=>{
    const lobe=mirror?'lower':'upper';
    let r=region(c05Outline,sx,sy,mirror,MAGENTA);
    
    
    r=region(c05GapUpper,sx,sy,mirror,'#f8dfe9','none');
    
    
    r=region(c05GapLower,sx,sy,mirror,'#f8dfe9','none');
    
    
    dots(c05Points,sx,sy,mirror,MAGENTA,5,'c05-point');
    dots(c05Flecks,sx,sy,mirror,'#fff',4,'c05-gap');
    r=region(c1Outline,sx,sy,mirror,ORANGE);
    
    
    dots(c1Flecks,sx,sy,mirror,'#fff',5,'c1-gap');
    r=region(c15Outline,sx,sy,mirror,BLUE);
    
    
    r=region(c15Gap,sx,sy,mirror,'#c9d8ec','none');
    
    
    dots(c1InsidePoints,sx,sy,mirror,ORANGE,5,'c1-point');
    dots(c15Points,sx,sy,mirror,BLUE,5,'c15-point');
    dots(c15Flecks,sx,sy,mirror,'#fff',3.4,'c15-gap');
  });
  drawFrame('d',box,sx,sy,dXTicks,dYTicks,2357,1907);
})();
</script>
</body>
</html>
